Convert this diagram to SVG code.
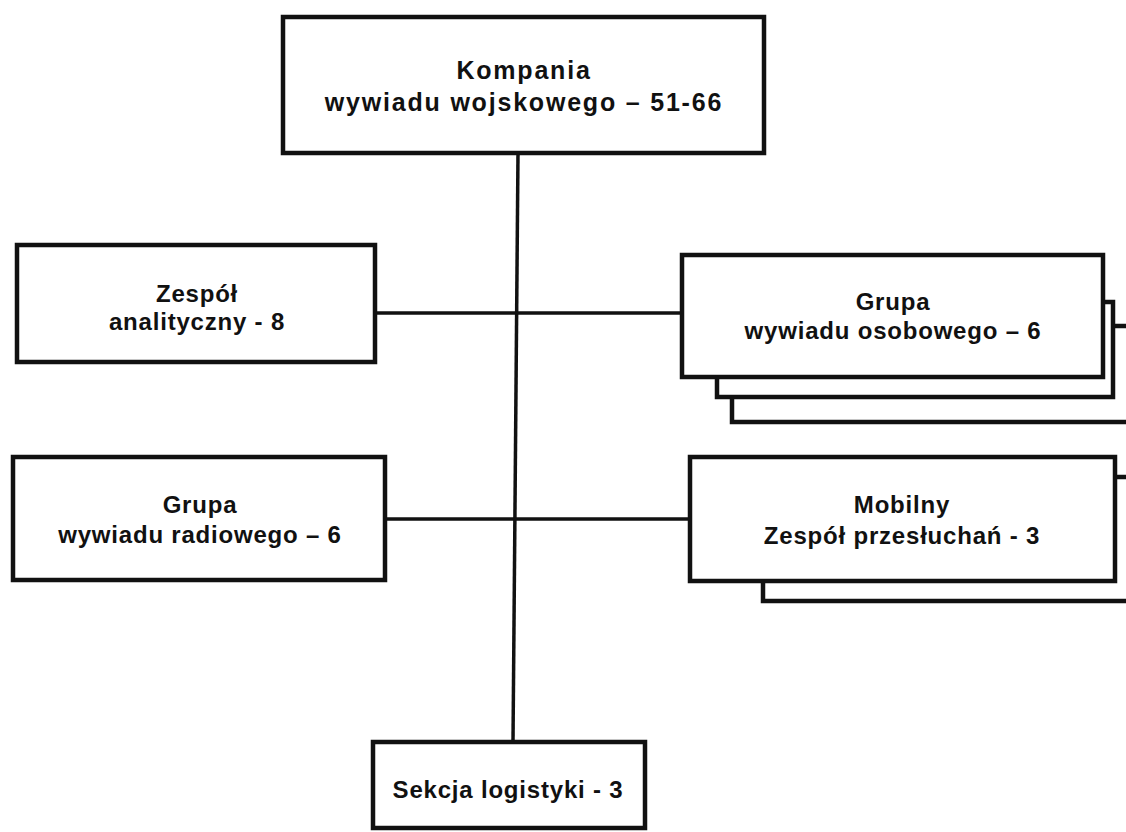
<svg xmlns="http://www.w3.org/2000/svg" width="1126" height="832" viewBox="0 0 1126 832">
<style>
.box{fill:#fff;stroke:#111;stroke-width:4.5}
.ln{fill:none;stroke:#111;stroke-width:3.5}
text{font-family:"Liberation Sans",Arial,sans-serif;font-weight:bold;font-size:24px;letter-spacing:0.8px;fill:#111;text-anchor:middle}
.big{font-size:25px;letter-spacing:1.8px}
</style>
<rect width="1126" height="832" fill="#fff"/>
<g id="connectors">
<line class="ln" x1="518" y1="153" x2="513" y2="742"/>
<line class="ln" x1="375" y1="313" x2="682" y2="313"/>
<line class="ln" x1="385" y1="519" x2="690" y2="519"/>
</g>
<g id="kompania">
<rect class="box" x="283" y="17" width="481" height="136"/>
<text class="big" x="524" y="79">Kompania</text>
<text class="big" x="524" y="111">wywiadu wojskowego – 51-66</text>
</g>
<g id="zespol-analityczny">
<rect class="box" x="17" y="245" width="358" height="117"/>
<text x="197" y="302">Zespół</text>
<text x="197" y="330">analityczny - 8</text>
</g>
<g id="grupa-radiowego">
<rect class="box" x="13" y="457" width="372" height="123"/>
<text x="200" y="513">Grupa</text>
<text x="200" y="543">wywiadu radiowego – 6</text>
</g>
<g id="grupa-osobowego">
<rect class="box" x="732" y="326" width="400" height="96"/>
<rect class="box" x="717" y="302" width="396" height="95"/>
<rect class="box" x="682" y="255" width="421" height="122"/>
<text x="893" y="310">Grupa</text>
<text x="893" y="339">wywiadu osobowego – 6</text>
</g>
<g id="mobilny">
<rect class="box" x="763" y="477" width="370" height="124"/>
<rect class="box" x="690" y="457" width="425" height="124"/>
<text x="902" y="513">Mobilny</text>
<text x="902" y="544">Zespół przesłuchań - 3</text>
</g>
<g id="sekcja-logistyki">
<rect class="box" x="373" y="742" width="272" height="86"/>
<text x="508" y="798">Sekcja logistyki - 3</text>
</g>
</svg>
